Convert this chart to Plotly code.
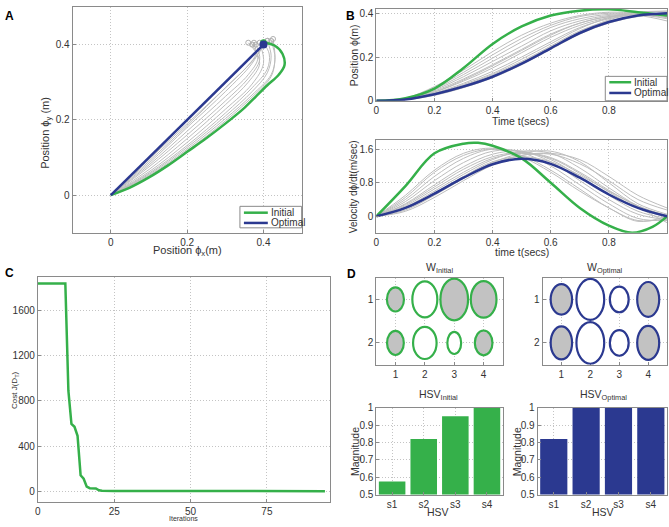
import plotly.graph_objects as go

W, H = 669, 527
GREEN = "#35b04a"
BLUE = "#2b3990"
GRAY = "#bdbdbd"
FILL = "#c2c2c2"
AXC = "#8a8a8a"
GRID = "#c4c4c4"
TXT = "#333333"
FONT = "Liberation Sans, Arial, sans-serif"

# ---------------- data ----------------
# A: hand trajectory in the plane
init_x = [0, 0.05, 0.1, 0.15, 0.2, 0.25, 0.3, 0.35, 0.38, 0.41, 0.44, 0.455, 0.45, 0.43, 0.40]
init_y = [0, 0.02, 0.047, 0.079, 0.115, 0.151, 0.19, 0.232, 0.262, 0.292, 0.32, 0.345, 0.375, 0.397, 0.405]
opt_x = [0, 0.4]
opt_y = [0, 0.4]
gray_xy = [
    ([0, 0.1, 0.2, 0.3, 0.4], [0, 0.098, 0.197, 0.297, 0.398]),
    ([0, 0.1, 0.2, 0.3, 0.37, 0.41], [0, 0.09, 0.185, 0.285, 0.355, 0.41]),
    ([0, 0.1, 0.2, 0.3, 0.37, 0.40], [0, 0.085, 0.18, 0.275, 0.35, 0.405]),
    ([0, 0.1, 0.2, 0.3, 0.36, 0.39, 0.38], [0, 0.075, 0.16, 0.25, 0.31, 0.36, 0.40]),
    ([0, 0.1, 0.2, 0.3, 0.36, 0.39, 0.37], [0, 0.068, 0.15, 0.24, 0.30, 0.35, 0.40]),
    ([0, 0.1, 0.2, 0.3, 0.37, 0.40, 0.39], [0, 0.062, 0.14, 0.228, 0.295, 0.35, 0.405]),
    ([0, 0.1, 0.2, 0.3, 0.37, 0.41, 0.415, 0.40], [0, 0.058, 0.132, 0.218, 0.285, 0.335, 0.375, 0.405]),
    ([0, 0.1, 0.2, 0.3, 0.37, 0.41, 0.42, 0.41], [0, 0.055, 0.127, 0.21, 0.275, 0.325, 0.37, 0.41]),
    ([0, 0.1, 0.2, 0.3, 0.37, 0.42, 0.43, 0.42], [0, 0.052, 0.122, 0.203, 0.266, 0.32, 0.365, 0.41]),
    ([0, 0.1, 0.2, 0.3, 0.38, 0.42, 0.43, 0.425], [0, 0.05, 0.118, 0.197, 0.27, 0.315, 0.36, 0.415]),
    ([0, 0.1, 0.2, 0.3, 0.36, 0.385, 0.36], [0, 0.08, 0.17, 0.262, 0.32, 0.365, 0.405]),
    ([0, 0.1, 0.2, 0.3, 0.36, 0.38, 0.375], [0, 0.095, 0.19, 0.285, 0.345, 0.375, 0.405]),
]

# B: position and velocity over time
t = [0, 0.1, 0.2, 0.3, 0.4, 0.5, 0.6, 0.7, 0.8, 0.9, 1.0]
pos_init = [0, 0.012, 0.056, 0.15, 0.26, 0.34, 0.39, 0.412, 0.418, 0.405, 0.39]
pos_opt = [0, 0.006, 0.03, 0.065, 0.11, 0.17, 0.24, 0.31, 0.36, 0.39, 0.40]
pos_gray = [
    [0, 0.004, 0.025, 0.06, 0.105, 0.165, 0.235, 0.305, 0.355, 0.385, 0.395],
    [0, 0.005, 0.03, 0.07, 0.12, 0.18, 0.25, 0.32, 0.365, 0.39, 0.40],
    [0, 0.006, 0.035, 0.08, 0.135, 0.20, 0.27, 0.335, 0.375, 0.395, 0.40],
    [0, 0.007, 0.04, 0.09, 0.15, 0.22, 0.29, 0.345, 0.38, 0.395, 0.395],
    [0, 0.008, 0.045, 0.10, 0.165, 0.235, 0.305, 0.355, 0.385, 0.395, 0.39],
    [0, 0.009, 0.05, 0.11, 0.18, 0.25, 0.32, 0.365, 0.39, 0.395, 0.385],
    [0, 0.01, 0.055, 0.12, 0.195, 0.27, 0.335, 0.375, 0.395, 0.395, 0.38],
    [0, 0.01, 0.06, 0.13, 0.21, 0.285, 0.345, 0.385, 0.40, 0.395, 0.375],
    [0, 0.012, 0.065, 0.14, 0.225, 0.30, 0.355, 0.39, 0.405, 0.40, 0.39],
    [0, 0.005, 0.028, 0.065, 0.115, 0.175, 0.245, 0.315, 0.37, 0.40, 0.41],
    [0, 0.006, 0.032, 0.075, 0.125, 0.19, 0.26, 0.33, 0.38, 0.405, 0.41],
    [0, 0.008, 0.04, 0.095, 0.16, 0.23, 0.30, 0.355, 0.385, 0.39, 0.365],
]
t_vinit = [0, 0.1, 0.2, 0.3, 0.35, 0.4, 0.5, 0.6, 0.7, 0.8, 0.88, 0.95, 1.0]
vel_init = [0, 0.72, 1.5, 1.73, 1.75, 1.68, 1.38, 0.8, 0.2, -0.22, -0.39, -0.25, 0]
vel_opt = [0, 0.2, 0.54, 0.92, 1.24, 1.37, 1.25, 0.92, 0.52, 0.2, 0]
vel_gray = [
    [0, 0.2, 0.55, 0.95, 1.3, 1.42, 1.3, 0.98, 0.6, 0.25, 0],
    [0, 0.25, 0.65, 1.05, 1.38, 1.5, 1.38, 1.02, 0.58, 0.2, -0.02],
    [0, 0.3, 0.75, 1.18, 1.48, 1.55, 1.35, 0.95, 0.5, 0.12, -0.05],
    [0, 0.35, 0.85, 1.28, 1.55, 1.55, 1.3, 0.85, 0.4, 0.05, -0.08],
    [0, 0.4, 0.95, 1.38, 1.6, 1.52, 1.2, 0.75, 0.3, -0.05, -0.1],
    [0, 0.45, 1.05, 1.45, 1.6, 1.45, 1.1, 0.65, 0.2, -0.1, -0.05],
    [0, 0.15, 0.5, 0.9, 1.25, 1.45, 1.48, 1.25, 0.85, 0.4, 0.15],
    [0, 0.18, 0.52, 0.92, 1.28, 1.5, 1.55, 1.3, 0.8, 0.3, 0.05],
    [0, 0.22, 0.6, 1.0, 1.35, 1.55, 1.5, 1.15, 0.68, 0.25, 0.02],
    [0, 0.12, 0.45, 0.85, 1.22, 1.45, 1.5, 1.35, 0.95, 0.5, 0.2],
    [0, 0.5, 1.1, 1.5, 1.62, 1.42, 1.05, 0.6, 0.2, -0.12, 0],
    [0, 0.28, 0.7, 1.12, 1.42, 1.52, 1.4, 1.05, 0.62, 0.22, -0.15],
]

# C: cost per iteration
iters = [0, 9, 10, 11, 12, 13, 14, 15, 16, 17, 19, 20, 21, 25, 40, 60, 80, 94]
cost = [1840, 1840, 890, 595, 570, 490, 140, 110, 40, 26, 24, 8, 3, 1, 0.5, 0.3, 0.2, 0.1]

# D: ellipse glyphs (diameters in data units) and HSV bars
w_init_dx = [[0.58, 0.85, 0.94, 0.875], [0.57, 0.80, 0.47, 0.60]]
w_init_dy = [[0.556, 0.83, 0.96, 0.84], [0.556, 0.74, 0.51, 0.57]]
w_init_fill = [[1, 0, 1, 1], [1, 0, 0, 1]]
w_opt_dx = [[0.74, 0.96, 0.65, 0.76], [0.74, 0.96, 0.65, 0.76]]
w_opt_dy = [[0.70, 0.94, 0.59, 0.80], [0.76, 0.96, 0.59, 0.78]]
w_opt_fill = [[1, 0, 0, 1], [1, 0, 0, 1]]

hsv_labels = ["s1", "s2", "s3", "s4"]
hsv_init = [0.575, 0.82, 0.95, 1.0]
hsv_opt = [0.82, 1.0, 1.0, 1.0]


def px(x):
    return x / W


def py(y):
    return 1 - y / H


def xdom(a, b):
    return [px(a), px(b)]


def ydom(a, b):
    return [py(b), py(a)]


def axis(dom, rng, tickvals=None, anchor=None, **kw):
    d = dict(domain=dom, range=rng, showline=True, mirror=True, linecolor=AXC,
             linewidth=1, ticks="inside", ticklen=3, tickcolor=AXC,
             showgrid=True, gridcolor=GRID, griddash="1px,2px", gridwidth=1,
             zeroline=False, tickfont=dict(size=10, color=TXT), anchor=anchor)
    if tickvals is not None:
        d["tickvals"] = tickvals
    d.update(kw)
    return d


fig = go.Figure()

# ----- A -----
for gx, gy in gray_xy:
    fig.add_trace(go.Scatter(x=gx, y=gy, mode="lines", line=dict(color=GRAY, width=1, shape="spline"),
                             showlegend=False, hoverinfo="skip", xaxis="x", yaxis="y"))
fig.add_trace(go.Scatter(x=[g[0][-1] for g in gray_xy], y=[g[1][-1] for g in gray_xy], mode="markers",
                         marker=dict(symbol="circle-open", size=5, color="#b0b0b0", line=dict(width=1)),
                         showlegend=False, xaxis="x", yaxis="y"))
fig.add_trace(go.Scatter(x=init_x, y=init_y, mode="lines", line=dict(color=GREEN, width=2.5, shape="spline"),
                         showlegend=False, xaxis="x", yaxis="y"))
fig.add_trace(go.Scatter(x=opt_x, y=opt_y, mode="lines", line=dict(color=BLUE, width=2.5),
                         showlegend=False, xaxis="x", yaxis="y"))
fig.add_trace(go.Scatter(x=[init_x[-1]], y=[init_y[-1]], mode="markers", marker=dict(color=GREEN, size=7),
                         showlegend=False, xaxis="x", yaxis="y"))
fig.add_trace(go.Scatter(x=[opt_x[-1]], y=[opt_y[-1]], mode="markers", marker=dict(color=BLUE, size=8),
                         showlegend=False, xaxis="x", yaxis="y"))

# ----- B top -----
for g in pos_gray:
    fig.add_trace(go.Scatter(x=t, y=g, mode="lines", line=dict(color=GRAY, width=1, shape="spline"),
                             showlegend=False, hoverinfo="skip", xaxis="x2", yaxis="y2"))
fig.add_trace(go.Scatter(x=t, y=pos_init, mode="lines", line=dict(color=GREEN, width=2.5, shape="spline"),
                         showlegend=False, xaxis="x2", yaxis="y2"))
fig.add_trace(go.Scatter(x=t, y=pos_opt, mode="lines", line=dict(color=BLUE, width=2.5, shape="spline"),
                         showlegend=False, xaxis="x2", yaxis="y2"))

# ----- B bottom -----
for g in vel_gray:
    fig.add_trace(go.Scatter(x=t, y=g, mode="lines", line=dict(color=GRAY, width=1, shape="spline"),
                             showlegend=False, hoverinfo="skip", xaxis="x3", yaxis="y3"))
fig.add_trace(go.Scatter(x=t_vinit, y=vel_init, mode="lines", line=dict(color=GREEN, width=2.5, shape="spline"),
                         showlegend=False, xaxis="x3", yaxis="y3"))
fig.add_trace(go.Scatter(x=t, y=vel_opt, mode="lines", line=dict(color=BLUE, width=2.5, shape="spline"),
                         showlegend=False, xaxis="x3", yaxis="y3"))

# ----- C -----
fig.add_trace(go.Scatter(x=iters, y=cost, mode="lines", line=dict(color=GREEN, width=2.5),
                         showlegend=False, xaxis="x4", yaxis="y4"))

# ----- D ellipses -----
shapes = []
for ax_id, dxs, dys, fills, col in [("5", w_init_dx, w_init_dy, w_init_fill, GREEN),
                                    ("6", w_opt_dx, w_opt_dy, w_opt_fill, BLUE)]:
    fig.add_trace(go.Scatter(x=[None], y=[None], showlegend=False, xaxis="x" + ax_id, yaxis="y" + ax_id))
    for r in range(2):
        for c in range(4):
            cx, cy = c + 1, r + 1
            shapes.append(dict(type="circle", xref="x" + ax_id, yref="y" + ax_id,
                               x0=cx - dxs[r][c] / 2, x1=cx + dxs[r][c] / 2,
                               y0=cy - dys[r][c] / 2, y1=cy + dys[r][c] / 2,
                               fillcolor=FILL if fills[r][c] else "white",
                               line=dict(color=col, width=2.2)))

# ----- D bars -----
fig.add_trace(go.Bar(x=hsv_labels, y=hsv_init, marker=dict(color=GREEN, line=dict(width=0)),
                     showlegend=False, xaxis="x7", yaxis="y7"))
fig.add_trace(go.Bar(x=hsv_labels, y=hsv_opt, marker=dict(color=BLUE, line=dict(width=0)),
                     showlegend=False, xaxis="x8", yaxis="y8"))

# ----- small boxed legends (A and B top) -----
annotations = []
for (bx0, by0, bx1, by1, row1, row2, lx0, lx1) in [(238, 205, 300, 227, 211.5, 222, 242, 266),
                                                   (605, 72, 667, 97, 78, 89, 609, 631)]:
    shapes.append(dict(type="rect", xref="paper", yref="paper", x0=px(bx0), x1=px(bx1), y0=py(by1), y1=py(by0),
                       fillcolor="white", line=dict(color="#8a8a8a", width=1), layer="above"))
    for yy, col, name in [(row1, GREEN, "Initial"), (row2, BLUE, "Optimal")]:
        shapes.append(dict(type="line", xref="paper", yref="paper", x0=px(lx0), x1=px(lx1), y0=py(yy), y1=py(yy),
                           line=dict(color=col, width=2.5), layer="above"))
        annotations.append(dict(text=name, x=px(lx1 + 1), y=py(yy), xref="paper", yref="paper", showarrow=False,
                                xanchor="left", yanchor="middle", font=dict(size=10, color=TXT, family=FONT)))

t_ticks = [0, 0.2, 0.4, 0.6, 0.8, 1]
t_text = ["0", "0.2", "0.4", "0.6", "0.8", "1"]
hsv_ticks = [0.5, 0.6, 0.7, 0.8, 0.9, 1.0]
hsv_text = ["0.5", "0.6", "0.7", "0.8", "0.9", "1"]

fig.update_layout(
    width=W, height=H, autosize=False,
    margin=dict(l=0, r=0, t=0, b=0),
    paper_bgcolor="white", plot_bgcolor="white",
    font=dict(family=FONT, color=TXT, size=10),
    bargap=0.16,
    showlegend=False,
    shapes=shapes,
    annotations=annotations,
    xaxis=axis(xdom(70, 300), [-0.1, 0.5], [0, 0.2, 0.4], anchor="y", ticktext=["0", "0.2", "0.4"]),
    yaxis=axis(ydom(1, 232), [-0.1, 0.5], [0, 0.2, 0.4], anchor="x", ticktext=["0", "0.2", "0.4"]),
    xaxis2=axis(xdom(375, 667), [0, 1], t_ticks, anchor="y2", ticktext=t_text),
    yaxis2=axis(ydom(3, 97), [0, 0.42], [0, 0.2, 0.4], anchor="x2", ticktext=["0", "0.2", "0.4"]),
    xaxis3=axis(xdom(375, 667), [0, 1], t_ticks, anchor="y3", ticktext=t_text),
    yaxis3=axis(ydom(137, 232), [-0.39, 1.82], [0, 0.8, 1.6], anchor="x3", ticktext=["0", "0.8", "1.6"]),
    xaxis4=axis(xdom(35, 328), [0, 95.5], [0, 25, 50, 75], anchor="y4"),
    yaxis4=axis(ydom(277, 508), [-100, 1900], [0, 400, 800, 1200, 1600], anchor="x4"),
    xaxis5=axis(xdom(375, 502), [0.35, 4.65], [1, 2, 3, 4], anchor="y5"),
    yaxis5=axis(ydom(278, 367), [2.5, 0.5], [1, 2], anchor="x5"),
    xaxis6=axis(xdom(542, 667), [0.35, 4.65], [1, 2, 3, 4], anchor="y6"),
    yaxis6=axis(ydom(278, 367), [2.5, 0.5], [1, 2], anchor="x6"),
    xaxis7=axis(xdom(375, 502), [-0.5, 3.5], anchor="y7", type="category"),
    yaxis7=axis(ydom(411, 500), [0.5, 1.0], hsv_ticks, anchor="x7", ticktext=hsv_text),
    xaxis8=axis(xdom(537, 667), [-0.5, 3.5], anchor="y8", type="category"),
    yaxis8=axis(ydom(411, 500), [0.5, 1.0], hsv_ticks, anchor="x8", ticktext=hsv_text),
)


def note(text, x, y, size=10, angle=0, bold=False):
    fig.add_annotation(text=f"<b>{text}</b>" if bold else text, x=px(x), y=py(y), xref="paper", yref="paper",
                       showarrow=False, textangle=angle, xanchor="center", yanchor="middle",
                       font=dict(size=size, color="#000" if bold else TXT, family=FONT))


# panel letters
note("A", 7, 10, 12, bold=True)
note("B", 349, 10, 12, bold=True)
note("C", 7, 273, 12, bold=True)
note("D", 350, 274, 12, bold=True)

# axis titles
note("Position ϕ<sub>y</sub> (m)", 43, 130, 11, angle=-90)
note("Position ϕ<sub>x</sub>(m)", 185, 251, 11)
note("Position ϕ(m)", 352, 50, 10.5, angle=-90)
note("Time t(secs)", 520, 118, 10.5)
note("Velocity dϕ/dt(m/sec)", 352, 185, 10, angle=-90)
note("time t(secs)", 521, 252, 10.5)
note("Cost J(D<sub>T</sub>)", 12, 393, 8, angle=-90)
note("Iterations", 181, 524, 7)
note("W<sub>Initial</sub>", 438, 268, 10.5)
note("W<sub>Optimal</sub>", 605, 268, 10.5)
note("HSV<sub>Initial</sub>", 437, 398, 10.5)
note("HSV<sub>Optimal</sub>", 603, 398, 10.5)
note("Magnitude", 353, 456, 10.5, angle=-90)
note("Magnitude", 516, 456, 10.5, angle=-90)
note("HSV", 437, 518, 10.5)
note("HSV", 603, 518, 10.5)

fig.write_html("out.html", config={"displayModeBar": False},
               post_script="document.body.style.margin='0';document.body.style.overflow='hidden';")
